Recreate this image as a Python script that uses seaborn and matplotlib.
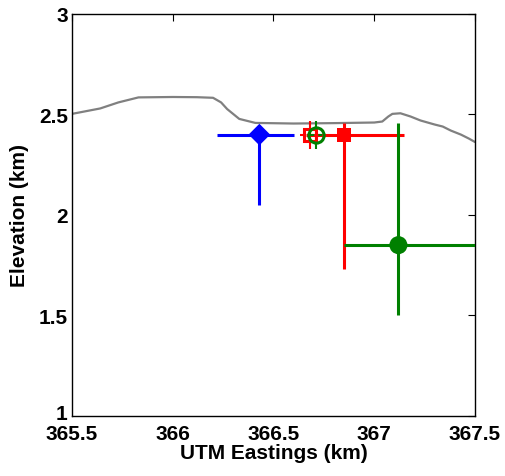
import matplotlib
matplotlib.use("Agg")
import matplotlib.pyplot as plt
import matplotlib.transforms as mtransforms
import seaborn as sns
import pandas as pd

# Topographic profile along the section
topo_x = [365.5, 365.64, 365.73, 365.83, 366.0, 366.12, 366.20, 366.24, 366.27,
          366.33, 366.41, 366.6, 366.8, 367.0, 367.04, 367.07, 367.09, 367.13,
          367.18, 367.23, 367.30, 367.34, 367.38, 367.43, 367.47, 367.5]
topo_z = [2.503, 2.530, 2.560, 2.585, 2.587, 2.586, 2.583, 2.560, 2.527,
          2.478, 2.458, 2.455, 2.457, 2.460, 2.465, 2.490, 2.503, 2.506,
          2.490, 2.470, 2.450, 2.440, 2.420, 2.400, 2.380, 2.363]

# Source location estimates: (easting, elevation) and asymmetric errors
est_names = ["diamond", "square", "circle"]
est_x = [366.43, 366.85, 367.12]
est_z = [2.40, 2.40, 1.85]
est_x_lo = [0.21, 0.19, 0.27]
est_x_hi = [0.17, 0.30, 0.50]
est_z_lo = [0.35, 0.67, 0.35]
est_z_hi = [0.05, 0.06, 0.61]
est_colors = ["#0000ff", "#ff0000", "#008000"]
est_markers = ["D", "s", "o"]
est_sizes = [11, 10, 13]

# Open-marker estimates with small (dashed) error bars
alt_x = [366.68, 366.71]
alt_z = [2.40, 2.40]
alt_x_err = [0.05, 0.03]
alt_z_err = [0.07, 0.07]
alt_colors = ["#ff0000", "#008000"]
alt_markers = ["s", "o"]
alt_sizes = [8, 11]

x_ticks = [365.5, 366, 366.5, 367, 367.5]
y_ticks = [1, 1.5, 2, 2.5, 3]

sns.set_style("white")
plt.rcParams["font.family"] = ["Liberation Sans", "DejaVu Sans"]
plt.rcParams["font.weight"] = "bold"
plt.rcParams["text.color"] = "black"
plt.rcParams["axes.labelcolor"] = "black"

fig = plt.figure(figsize=(5.06, 4.77), dpi=100)
ax = fig.add_axes([0.1423, 0.1258, 0.7964, 0.8428])

topo = pd.DataFrame({"x": topo_x, "z": topo_z})
sns.lineplot(data=topo, x="x", y="z", ax=ax, color="#808080", lw=1.6,
             sort=False, zorder=2)

for x, z, xe, ze, c, m, s in zip(alt_x, alt_z, alt_x_err, alt_z_err,
                                 alt_colors, alt_markers, alt_sizes):
    eb = ax.errorbar([x], [z], xerr=[xe], yerr=[ze], fmt="none", ecolor=c,
                     elinewidth=1.5, capsize=0, zorder=4)
    eb[2][0].set_linestyle((0, (2, 2)))
    ax.plot([x], [z], marker=m, ms=s, mfc="none", mec=c, mew=2.2,
            ls="none", zorder=5)

for x, z, xl, xh, zl, zh, c, m, s in zip(est_x, est_z, est_x_lo, est_x_hi,
                                         est_z_lo, est_z_hi, est_colors,
                                         est_markers, est_sizes):
    ax.errorbar([x], [z], xerr=[[xl], [xh]], yerr=[[zl], [zh]], fmt="none",
                ecolor=c, elinewidth=2.2, capsize=0, zorder=3)

est = pd.DataFrame({"x": est_x, "z": est_z, "name": est_names})
sns.scatterplot(data=est, x="x", y="z", hue="name", style="name",
                palette=dict(zip(est_names, est_colors)),
                markers=dict(zip(est_names, est_markers)),
                size="name", sizes=dict(zip(est_names, [s ** 2 for s in est_sizes])),
                linewidth=0, legend=False, ax=ax, zorder=6)

ax.set_xlim(365.5, 367.5)
ax.set_ylim(1, 3)
ax.set_xticks(x_ticks)
ax.set_yticks(y_ticks)
ax.set_xticklabels([f"{v:g}" for v in x_ticks])
ax.set_yticklabels([f"{v:g}" for v in y_ticks])
ax.tick_params(direction="in", length=5, width=0.8, top=True, right=True,
               labelsize=15, colors="black")
ax.tick_params(axis="x", pad=5.5)
ax.tick_params(axis="y", pad=3)
for lab in ax.get_xticklabels() + ax.get_yticklabels():
    lab.set_fontweight("bold")
    lab.set_color("black")
# lift the lowest elevation label slightly so it clears the first easting label
lowest = ax.get_yticklabels()[0]
lowest.set_transform(lowest.get_transform() +
                     mtransforms.ScaledTranslation(0, 3 / 72, fig.dpi_scale_trans))
for sp in ax.spines.values():
    sp.set_color("black")
    sp.set_linewidth(1.0)

ax.set_xlabel("UTM Eastings (km)", fontsize=15, fontweight="bold", labelpad=0)
ax.set_ylabel("Elevation (km)", fontsize=15, fontweight="bold", labelpad=7)

fig.savefig("out.png", dpi=100)
